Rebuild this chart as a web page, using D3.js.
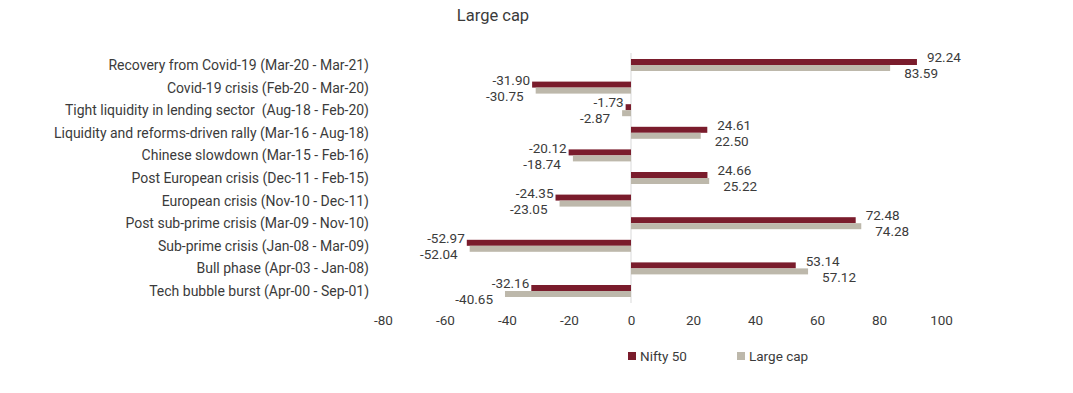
<!DOCTYPE html>
<html>
<head>
<meta charset="utf-8">
<script src="https://cdn.jsdelivr.net/npm/d3@7"></script>
<style>
  body { margin: 0; background: #fff; }
  svg text { font-family: Roboto, "Noto Sans", sans-serif; fill: #3b3b3b; white-space: pre; }
</style>
</head>
<body>
<div id="chart"></div>
<script>
// données
const categories = [
  "Recovery from Covid-19 (Mar-20 - Mar-21)",
  "Covid-19 crisis (Feb-20 - Mar-20)",
  "Tight liquidity in lending sector  (Aug-18 - Feb-20)",
  "Liquidity and reforms-driven rally (Mar-16 - Aug-18)",
  "Chinese slowdown (Mar-15 - Feb-16)",
  "Post European crisis (Dec-11 - Feb-15)",
  "European crisis (Nov-10 - Dec-11)",
  "Post sub-prime crisis (Mar-09 - Nov-10)",
  "Sub-prime crisis (Jan-08 - Mar-09)",
  "Bull phase (Apr-03 - Jan-08)",
  "Tech bubble burst (Apr-00 - Sep-01)"
];
const nifty50 = [92.24, -31.90, -1.73, 24.61, -20.12, 24.66, -24.35, 72.48, -52.97, 53.14, -32.16];
const largeCap = [83.59, -30.75, -2.87, 22.50, -18.74, 25.22, -23.05, 74.28, -52.04, 57.12, -40.65];
const seriesNames = ["Nifty 50", "Large cap"];
const xTicks = [-80, -60, -40, -20, 0, 20, 40, 60, 80, 100];
const title = "Large cap";

const colors = { "Nifty 50": "#7a1c2c", "Large cap": "#bdb8ab" };

const width = 1073, height = 393;
const svg = d3.select("#chart").append("svg")
  .attr("width", width)
  .attr("height", height);

// échelles
const x = d3.scaleLinear().domain([-80, 100]).range([383, 941]);
const y = d3.scaleBand().domain(categories).range([53.7, 302.3]);
const ySub = d3.scaleBand().domain(seriesNames).range([0, 12]);

// titre
svg.append("text")
  .attr("x", 493).attr("y", 21)
  .attr("text-anchor", "middle")
  .attr("font-size", 16.5)
  .text(title);

// axe vertical à zéro
svg.append("line")
  .attr("x1", x(0)).attr("x2", x(0))
  .attr("y1", 53).attr("y2", 303)
  .attr("stroke", "#d9d9d9").attr("stroke-width", 1);

// étiquettes de catégories
svg.append("g").selectAll("text")
  .data(categories)
  .join("text")
  .attr("x", 369)
  .attr("y", d => y(d) + y.bandwidth() / 2)
  .attr("dy", "0.35em")
  .attr("text-anchor", "end")
  .attr("font-size", 14)
  .text(d => d);

// axe x (sans ligne)
const xAxis = d3.axisBottom(x).tickValues(xTicks).tickSize(0).tickPadding(0)
  .tickFormat(d => String(d));
const gx = svg.append("g")
  .attr("transform", "translate(0, 315)")
  .call(xAxis);
gx.select(".domain").remove();
gx.selectAll("text")
  .attr("font-size", 13.5)
  .attr("font-family", "Roboto, sans-serif")
  .attr("fill", "#3b3b3b");

// barres
const rows = categories.map((c, i) => ({ cat: c, values: [
  { name: "Nifty 50", v: nifty50[i] },
  { name: "Large cap", v: largeCap[i] }
]}));

const groups = svg.append("g").selectAll("g")
  .data(rows)
  .join("g")
  .attr("transform", d => `translate(0, ${y(d.cat) + y.bandwidth() / 2 - 6})`);

groups.selectAll("rect")
  .data(d => d.values)
  .join("rect")
  .attr("x", d => x(Math.min(0, d.v)))
  .attr("width", d => Math.abs(x(d.v) - x(0)))
  .attr("y", d => ySub(d.name))
  .attr("height", ySub.bandwidth())
  .attr("fill", d => colors[d.name]);

// étiquettes de valeurs
groups.selectAll("text")
  .data(d => d.values)
  .join("text")
  .attr("x", d => {
    const first = d.name === "Nifty 50";
    if (d.v >= 0) return x(d.v) + (first ? 10 : 14);
    return x(d.v) + (first ? -2 : -12);
  })
  .attr("y", d => d.name === "Nifty 50" ? ySub(d.name) - 1.5 : ySub(d.name) + ySub.bandwidth() + 2.5)
  .attr("dy", "0.35em")
  .attr("text-anchor", d => d.v >= 0 ? "start" : "end")
  .attr("font-size", 13.5)
  .text(d => d.v.toFixed(2));

// légende
const legend = svg.append("g").selectAll("g")
  .data(seriesNames)
  .join("g")
  .attr("transform", (d, i) => `translate(${628 + i * 109}, 352)`);
legend.append("rect")
  .attr("width", 8).attr("height", 8)
  .attr("fill", d => colors[d]);
legend.append("text")
  .attr("x", 12).attr("y", 4)
  .attr("dy", "0.35em")
  .attr("font-size", 13.5)
  .text(d => d);
</script>
</body>
</html>
